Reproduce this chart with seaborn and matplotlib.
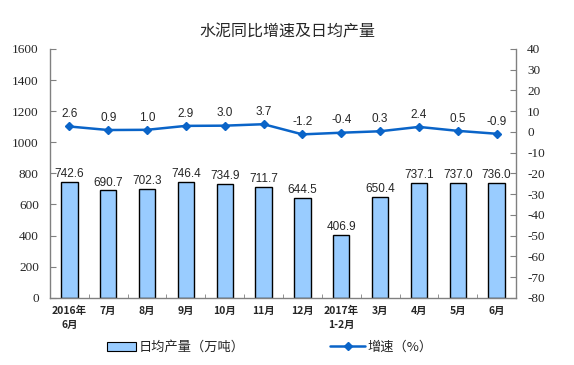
import numpy as np
import pandas as pd
import seaborn as sns
import matplotlib.pyplot as plt
from matplotlib.ticker import FixedLocator
from matplotlib.patches import Patch
from matplotlib.lines import Line2D

months = ["2016年\n6月", "7月", "8月", "9月", "10月", "11月", "12月",
          "2017年\n1-2月", "3月", "4月", "5月", "6月"]
output = [742.6, 690.7, 702.3, 746.4, 734.9, 711.7, 644.5, 406.9, 650.4, 737.1, 737.0, 736.0]
growth = [2.6, 0.9, 1.0, 2.9, 3.0, 3.7, -1.2, -0.4, 0.3, 2.4, 0.5, -0.9]
left_ticks = list(range(0, 1601, 200))
right_ticks = list(range(-80, 41, 10))

sns.set_style("white")
plt.rcParams['font.family'] = ['Noto Sans CJK SC', 'DejaVu Sans']
plt.rcParams['axes.unicode_minus'] = False

bar_color = "#99CCFF"
line_color = "#0A64C8"
serif = ['Liberation Serif', 'DejaVu Serif']
sans = ['Liberation Sans', 'DejaVu Sans']

df = pd.DataFrame({"month": months, "output": output, "growth": growth})

fig = plt.figure(figsize=(5.74, 3.65), dpi=100)
ax = fig.add_axes([0.087, 0.184, 0.812, 0.682])
sns.barplot(data=df, x="month", y="output", color=bar_color, edgecolor="black",
            linewidth=1.0, width=0.42, saturation=1, ax=ax)
ax.set_ylim(0, 1600)
ax.set_xlim(-0.5, len(months) - 0.5)
ax.set_yticks(left_ticks, labels=[str(t) for t in left_ticks], fontfamily=serif, fontsize=9.5)
ax.set_xlabel("")
ax.set_ylabel("")

for i, v in enumerate(output):
    ax.text(i, v + 12, f"{v:.1f}", ha="center", va="bottom", fontsize=8.5, family=sans)

ax2 = ax.twinx()
ax2.plot(np.arange(len(months)), growth, color=line_color, lw=1.8,
         marker="D", markersize=4)
ax2.set_ylim(-80, 40)
ax2.set_yticks(right_ticks, labels=[str(t) for t in right_ticks], fontfamily=serif, fontsize=9.5)
for i, v in enumerate(growth):
    ax2.text(i, v + 3, f"{v:.1f}", ha="center", va="bottom", fontsize=8.5, family=sans)

for a in (ax, ax2):
    for s in a.spines.values():
        s.set_visible(False)
ax.spines["left"].set_visible(True)
ax.spines["bottom"].set_visible(True)
ax2.spines["right"].set_visible(True)
for s in (ax.spines["left"], ax.spines["bottom"], ax2.spines["right"]):
    s.set_color("#808080")
    s.set_linewidth(1.0)

ax.tick_params(axis="y", direction="in", length=4, color="#808080", left=True, pad=8)
ax2.tick_params(axis="y", direction="in", length=4, color="#808080", right=True, pad=8)

ax.tick_params(axis="x", which="major", length=0, labelsize=7.5, pad=6)
ax.xaxis.set_minor_locator(FixedLocator(np.arange(-0.5, len(months), 1.0)))
ax.tick_params(axis="x", which="minor", direction="in", length=3, color="#808080",
               bottom=True)
for lbl in ax.get_xticklabels():
    lbl.set_fontweight("bold")
    lbl.set_linespacing(1.5)

fig.text(0.5, 0.912, "水泥同比增速及日均产量", ha="center", va="center", fontsize=11.5)

h1 = Patch(facecolor=bar_color, edgecolor="black", linewidth=0.8)
h2 = Line2D([], [], color=line_color, lw=1.8, marker="D", markersize=4)
fig.legend([h1], ["日均产量（万吨）"], loc="center left", bbox_to_anchor=(0.165, 0.048),
           frameon=False, fontsize=9.5, handlelength=2.2, handleheight=0.6,
           handletextpad=0.2)
fig.legend([h2], ["增速（%）"], loc="center left", bbox_to_anchor=(0.555, 0.048),
           frameon=False, fontsize=9.5, handlelength=2.6, handletextpad=0.2)

fig.savefig("out.png", dpi=100)
